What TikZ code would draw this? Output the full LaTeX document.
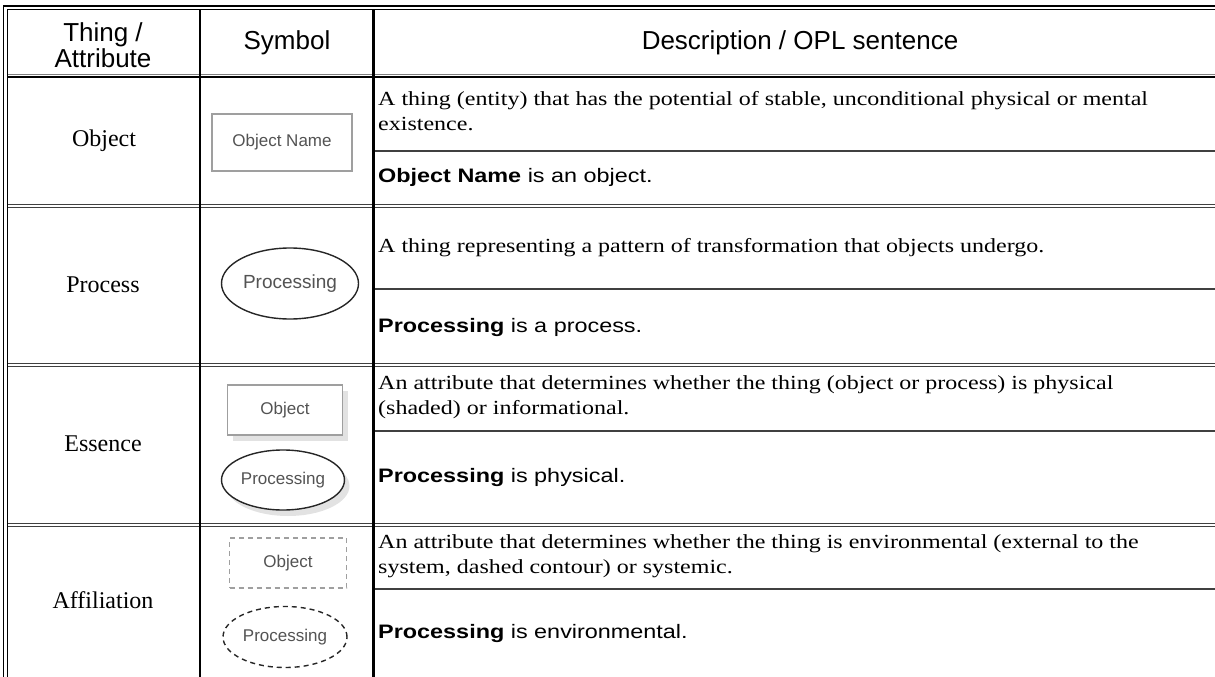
\documentclass[tikz,border=0pt]{standalone}
\usepackage{fontspec}
\setmainfont{Liberation Serif}
\setsansfont{Liberation Sans}
\newfontfamily\descfont{Liberation Serif}[FakeStretch=1.2]
\newfontfamily\oplfont{Liberation Sans}[FakeStretch=1.2]
\usetikzlibrary{shapes.geometric,shadows}

\tikzset{
  rule/.style={line width=2.2pt},
  splitrule/.style={line width=1.2pt, black!75},
  rowrule/.style={double, double distance=2pt, line width=1pt, draw=black!75},
  framerule/.style={double, double distance=2.5pt, line width=1.3pt},
  headtext/.style={font=\sffamily\fontsize{26}{26}\selectfont, align=center},
  thingtext/.style={font=\fontsize{24}{26}\selectfont},
  desctext/.style={font=\descfont\fontsize{20}{25}\selectfont, anchor=west, align=left, inner sep=0pt},
  opltext/.style={font=\oplfont\fontsize{19.5}{24}\selectfont, anchor=west, inner sep=0pt},
  symtext/.style={text=gray!65!black, font=\sffamily\fontsize{17}{20}\selectfont, inner sep=0pt},
  objbox/.style={symtext, rectangle, draw=gray!75, fill=white, line width=1.5pt},
  procell/.style={symtext, ellipse, draw=black!85, fill=white, line width=1.4pt},
  shaded/.style={drop shadow={shadow xshift=5pt, shadow yshift=-6pt, fill=gray!45}},
  environ/.style={dash pattern=on 5pt off 4pt}
}

\begin{document}
\begin{tikzpicture}[x=1pt, y=-1pt]
    \useasboundingbox (0,0) rectangle (1215,677);
    \clip (0,0) rectangle (1215,677);

    % Table rules
    \draw[rowrule] (8,206) -- (1230,206);
    \draw[rowrule] (8,364.5) -- (1230,364.5);
    \draw[rowrule] (8,524.5) -- (1230,524.5);
    \draw[gray, line width=0.8pt] (8,74.3) -- (1230,74.3);
    \draw[rule] (8,77.2) -- (1230,77.2);
    \foreach \y in {151,289,431,589}
        \draw[splitrule] (373.5,\y) -- (1230,\y);
    \draw[rule] (200,7.8) -- (200,690);
    \draw[rule] (373.5,7.8) -- (373.5,690);
    \draw[framerule] (5.7,700) -- (5.7,7.8) -- (1230,7.8);

    % Header
    \node[headtext] (headthing) at (103,45) {Thing /\\Attribute};
    \node[headtext] (headsymbol) at (287,43) {Symbol};
    \node[headtext] (headdesc) at (800,43) {Description / OPL sentence};

    % Thing / attribute names
    \node[thingtext] (object) at (104,141) {Object};
    \node[thingtext] (process) at (103,285) {Process};
    \node[thingtext] (essence) at (103,444) {Essence};
    \node[thingtext] (affiliation) at (103,600) {Affiliation};

    % Symbols
    \node[objbox,
          minimum width=140pt,
          minimum height=57pt] (objsym) at (282,142.5) {Object Name};
    \node[procell,
          minimum width=137pt,
          minimum height=71pt,
          font=\sffamily\fontsize{19}{20}\selectfont] (procsym) at (290,283.5) {Processing};
    \node[objbox, shaded,
          minimum width=115pt,
          minimum height=50pt] (essobj) at (285,410) {Object};
    \node[procell, shaded,
          minimum width=123pt,
          minimum height=60pt] (essproc) at (283,480) {Processing};
    \node[objbox, environ,
          minimum width=117pt,
          minimum height=50pt] (affobj) at (288,563) {Object};
    \node[procell, environ,
          minimum width=124pt,
          minimum height=61pt] (affproc) at (285,637) {Processing};

    % Descriptions and OPL sentences
    \node[desctext] (objdesc) at (378,111)
        {A thing (entity) that has the potential of stable, unconditional physical or mental\\existence.};
    \node[opltext] (objopl) at (378,177) {\textbf{Object Name} is an object.};
    \node[desctext] (procdesc) at (378,248)
        {A thing representing a pattern of transformation that objects undergo.};
    \node[opltext] (procopl) at (378,327) {\textbf{Processing} is a process.};
    \node[desctext] (essdesc) at (378,397)
        {An attribute that determines whether the thing (object or process) is physical\\(shaded) or informational.};
    \node[opltext] (essopl) at (378,477) {\textbf{Processing} is physical.};
    \node[desctext] (affdesc) at (378,556)
        {An attribute that determines whether the thing is environmental (external to the\\system, dashed contour) or systemic.};
    \node[opltext] (affopl) at (378,633) {\textbf{Processing} is environmental.};
\end{tikzpicture}
\end{document}
